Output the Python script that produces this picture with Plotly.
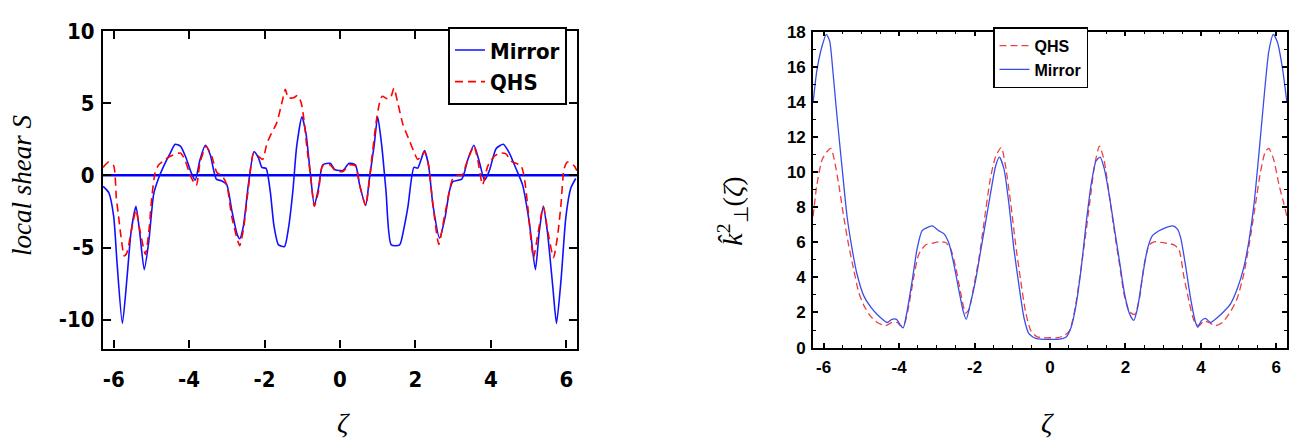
import plotly.graph_objects as go

# ---------------- Left panel: local shear S ----------------
mirror_s_x = [-6.28, -6.13, -6.0, -5.91, -5.77, -5.65, -5.54, -5.41, -5.31, -5.19, -5.07, -4.94, -4.81,
              -4.63, -4.5, -4.37, -4.23, -4.08, -3.95, -3.84, -3.71, -3.57, -3.44, -3.28, -3.13, -3.0,
              -2.87, -2.73, -2.66, -2.56, -2.43, -2.28, -2.16, -2.07, -1.96, -1.85, -1.75, -1.63, -1.47,
              -1.37, -1.25, -1.15, -1.01, -0.9, -0.79, -0.68, -0.57, -0.46, -0.26, -0.13, 0.0,
              0.08, 0.24, 0.41, 0.52, 0.68, 0.78, 0.9, 1.0, 1.11, 1.22, 1.36, 1.58, 1.69, 1.8, 1.96,
              2.06, 2.15, 2.24, 2.35, 2.46, 2.64, 2.79, 2.9, 2.99, 3.23, 3.39, 3.55, 3.7, 3.83, 3.96,
              4.14, 4.33, 4.49, 4.67, 4.84, 5.02, 5.18, 5.28, 5.39, 5.5, 5.64, 5.74, 5.86, 5.99, 6.12, 6.25]
mirror_s_y = [-0.77, -1.2, -2.85, -6.1, -10.26, -7.2, -3.95, -2.15, -3.95, -6.53, -4.6, -1.3, -0.2,
              0.88, 1.54, 2.15, 2.02, 1.2, 0.22, -0.33, 1.1, 2.08, 1.43, -0.26, -0.39, -0.66,
              -2.41, -4.06, -4.39, -3.5, -0.66, 1.64, 1.2, 0.55, 0.48, -1.1, -3.5, -4.82, -4.93,
              -3.73, -1.1, 1.97, 4.06, 2.85, 0.22, -2.08, -0.88, 0.72, 0.83, 0.39, 0.33,
              0.33, 0.83, 0.72, -0.66, -2.08, -0.22, 1.97, 4.06, 1.97, -1.1, -4.82, -4.82, -3.73, -2.19, 0.55,
              0.5, 1.1, 1.71, 0.66, -1.97, -4.34, -2.85, -1.1, -0.44, -0.26, 1.1, 2.08, 0.88, -0.33, 0.33,
              1.86, 2.15, 1.54, 0.44, -0.66, -3.29, -6.53, -3.95, -2.15, -3.95, -7.68, -10.26, -7.24, -2.85, -0.88, -0.22]

qhs_s_x = [-6.28, -6.13, -6.0, -5.93, -5.87, -5.81, -5.72, -5.65, -5.54, -5.41, -5.31, -5.16, -5.07, -4.99,
           -4.9, -4.81, -4.63, -4.5, -4.23, -4.1, -3.97, -3.81, -3.71, -3.55, -3.4, -3.26, -3.13, -3.0,
           -2.87, -2.66, -2.56, -2.43, -2.29, -2.16, -2.05, -1.94, -1.85, -1.68, -1.52, -1.45, -1.37, -1.23,
           -1.13, -1.03, -0.95, -0.88, -0.79, -0.68, -0.57, -0.46, -0.26, -0.13, 0.0,
           0.08, 0.24, 0.41, 0.52, 0.68, 0.83, 0.96, 1.05, 1.12, 1.25, 1.34, 1.43, 1.53, 1.67, 1.84, 1.96,
           2.06, 2.15, 2.24, 2.35, 2.46, 2.62, 2.77, 2.99, 3.12, 3.23, 3.39, 3.55, 3.65, 3.78, 3.92, 4.09,
           4.23, 4.4, 4.53, 4.8, 4.89, 4.97, 5.13, 5.24, 5.39, 5.5, 5.66, 5.77, 5.86, 5.94, 6.03, 6.21, 6.28]
qhs_s_y = [0.55, 0.92, 0.66, -1.54, -2.85, -4.17, -5.59, -5.37, -3.95, -2.41, -3.73, -5.48, -3.95, -1.54,
           0.22, 0.72, 1.1, 1.32, 1.54, 0.99, 0.0, -0.7, 0.88, 2.02, 1.32, 0.18, 0.0, -0.66,
           -2.85, -4.87, -3.73, -0.88, 1.54, 1.32, 1.1, 2.19, 2.74, 3.62, 5.26, 5.96, 5.37, 5.37,
           5.53, 5.04, 3.73, 1.97, 0.22, -2.15, -1.1, 0.66, 0.72, 0.33, 0.26,
           0.26, 0.72, 0.66, -0.66, -2.08, 0.88, 3.73, 5.04, 5.48, 5.31, 5.37, 6.03, 5.04, 3.51, 2.41, 1.64,
           1.1, 1.32, 1.64, 0.66, -1.97, -4.78, -2.85, -0.22, 0.0, 0.0, 1.1, 2.02, 1.1, -0.66, 0.66, 1.32,
           1.54, 1.49, 0.99, 0.66, -0.22, -1.97, -5.7, -4.17, -2.15, -3.73, -5.7, -4.17, -1.97, 0.44, 0.92, 0.66, 0.33]

zero_x = [-6.2832, 6.2832]
zero_y = [0, 0]

# ---------------- Right panel: k_perp^2 ----------------
mirror_k_x = [-6.28, -6.18, -6.04, -5.93, -5.84, -5.75, -5.65, -5.51, -5.38, -5.25, -5.12, -4.94, -4.76,
              -4.58, -4.32, -4.19, -4.07, -3.96, -3.89, -3.79, -3.65, -3.52, -3.39, -3.26, -3.12, -2.95,
              -2.81, -2.68, -2.55, -2.42, -2.3, -2.22, -2.12, -1.97, -1.84, -1.71, -1.58, -1.44, -1.34,
              -1.22, -1.09, -0.96, -0.82, -0.69, -0.56, -0.38, -0.16, 0.02,
              0.21, 0.43, 0.56, 0.69, 0.83, 0.96, 1.09, 1.22, 1.33, 1.44, 1.58, 1.71, 1.84, 1.97, 2.1,
              2.22, 2.32, 2.45, 2.59, 2.72, 2.89, 3.07, 3.25, 3.38, 3.47, 3.6, 3.73, 3.86, 3.92, 4.01,
              4.12, 4.26, 4.43, 4.61, 4.79, 4.96, 5.14, 5.27, 5.41, 5.54, 5.67, 5.8, 5.92, 6.03, 6.16, 6.28]
mirror_k_y = [13.97, 15.8, 17.2, 17.85, 17.45, 15.6, 13.25, 10.2, 7.47, 5.67, 4.22, 2.96, 2.33,
              1.88, 1.43, 1.61, 1.61, 1.25, 1.12, 2.06, 3.86, 5.67, 6.66, 6.84, 6.93, 6.66,
              6.48, 5.94, 4.77, 3.32, 2.06, 1.61, 2.42, 3.86, 5.49, 7.11, 8.74, 10.36, 10.85,
              10.18, 8.2, 5.67, 3.5, 1.7, 0.79, 0.52, 0.47, 0.47,
              0.47, 0.61, 1.16, 2.42, 4.58, 7.11, 9.28, 10.63, 10.85, 10.18, 8.56, 6.75, 4.95, 3.14, 1.97,
              1.55, 2.24, 4.04, 5.67, 6.39, 6.66, 6.84, 6.93, 6.75, 6.21, 4.58, 2.78, 1.43, 1.16, 1.52,
              1.66, 1.43, 1.7, 2.06, 2.51, 3.32, 4.58, 6.03, 8.2, 11.08, 14.15, 16.86, 17.85, 17.4, 15.96, 13.97]

qhs_k_x = [-6.28, -6.18, -6.04, -5.91, -5.81, -5.72, -5.6, -5.47, -5.34, -5.2, -5.07, -4.94, -4.76,
           -4.58, -4.36, -4.19, -4.05, -3.96, -3.86, -3.74, -3.61, -3.48, -3.3, -3.12, -2.95, -2.77,
           -2.64, -2.5, -2.37, -2.24, -2.15, -2.02, -1.88, -1.75, -1.58, -1.44, -1.29, -1.18, -1.04,
           -0.91, -0.78, -0.65, -0.51, -0.34, -0.16, 0.02,
           0.21, 0.39, 0.52, 0.65, 0.78, 0.92, 1.05, 1.18, 1.31, 1.43, 1.58, 1.71, 1.84, 1.97, 2.1,
           2.24, 2.37, 2.5, 2.63, 2.76, 2.94, 3.11, 3.29, 3.42, 3.55, 3.69, 3.82, 3.95, 4.08, 4.21,
           4.39, 4.57, 4.79, 4.96, 5.14, 5.32, 5.45, 5.58, 5.71, 5.8, 5.93, 6.07, 6.2, 6.28]
qhs_k_y = [7.47, 9.28, 10.72, 11.17, 11.35, 10.72, 9.28, 7.47, 5.85, 4.4, 3.14, 2.42, 1.79,
           1.43, 1.25, 1.43, 1.43, 1.25, 1.35, 2.42, 4.04, 5.31, 5.85, 5.94, 6.03, 5.99,
           5.67, 4.58, 3.14, 1.97, 2.15, 3.5, 5.13, 7.11, 9.64, 10.9, 11.41, 10.36, 8.2,
           5.85, 3.86, 2.06, 0.97, 0.61, 0.56, 0.56,
           0.56, 0.7, 0.97, 2.06, 3.86, 6.03, 8.2, 10.36, 11.48, 10.72, 8.56, 6.57, 4.77, 2.96, 2.06,
           1.88, 2.78, 4.77, 5.85, 6.03, 5.99, 5.94, 5.85, 5.58, 4.04, 2.6, 1.52, 1.25, 1.52, 1.43,
           1.25, 1.43, 2.06, 2.78, 4.22, 6.39, 8.2, 10.0, 11.17, 11.35, 10.72, 9.28, 8.2, 7.47]

left_xticks = [-6, -4, -2, 0, 2, 4, 6]
left_xlabels = ["-6", "-4", "-2", "0", "2", "4", "6"]
left_yticks = [-10, -5, 0, 5, 10]
left_ylabels = ["-10", "-5", "0", "5", "10"]
right_xticks = [-6, -4, -2, 0, 2, 4, 6]
right_xlabels = ["-6", "-4", "-2", "0", "2", "4", "6"]
right_yticks = [0, 2, 4, 6, 8, 10, 12, 14, 16, 18]
right_ylabels = ["0", "2", "4", "6", "8", "10", "12", "14", "16", "18"]

W, H = 1294, 446
PI2 = 6.2832

NARROW = "Liberation Sans Narrow, Arial Narrow, DejaVu Sans Condensed, sans-serif"
SANS = "Liberation Sans, Arial, Helvetica, sans-serif"
SERIF = "Liberation Serif, Times New Roman, serif"

fig = go.Figure()

fig.add_trace(go.Scatter(x=zero_x, y=zero_y, mode="lines", line=dict(color="#0000ff", width=2.5),
                         showlegend=False, xaxis="x", yaxis="y", hoverinfo="skip"))
fig.add_trace(go.Scatter(x=mirror_s_x, y=mirror_s_y, mode="lines", name="Mirror",
                         line=dict(color="#1010ff", width=1.6, shape="spline", smoothing=0.6),
                         xaxis="x", yaxis="y", legend="legend"))
fig.add_trace(go.Scatter(x=qhs_s_x, y=qhs_s_y, mode="lines", name="QHS",
                         line=dict(color="#ff0000", width=1.6, dash="8px,5px", shape="spline", smoothing=0.6),
                         xaxis="x", yaxis="y", legend="legend"))

fig.add_trace(go.Scatter(x=qhs_k_x, y=qhs_k_y, mode="lines", name="QHS",
                         line=dict(color="#ee4040", width=1.3, dash="7px,4px", shape="spline", smoothing=0.6),
                         xaxis="x2", yaxis="y2", legend="legend2"))
fig.add_trace(go.Scatter(x=mirror_k_x, y=mirror_k_y, mode="lines", name="Mirror",
                         line=dict(color="#3a4de8", width=1.3, shape="spline", smoothing=0.6),
                         xaxis="x2", yaxis="y2", legend="legend2"))

common = dict(showline=True, linecolor="black", mirror="ticks", ticks="inside", tickcolor="black",
              showgrid=False, zeroline=False, tickmode="array")

fig.update_layout(
    width=W, height=H, autosize=False,
    margin=dict(l=0, r=0, t=0, b=0),
    paper_bgcolor="white", plot_bgcolor="white",
    xaxis=dict(domain=[103 / W, 577 / W], anchor="y", range=[-PI2, PI2],
               tickvals=left_xticks, ticktext=left_xlabels,
               ticklen=8, tickwidth=2, linewidth=2.2,
               tickfont=dict(family=NARROW, size=22, color="black", weight="bold"),
               ticklabelstandoff=10, **common),
    yaxis=dict(domain=[1 - 354 / H, 1 - 20 / H], anchor="x", range=[-12, 10],
               tickvals=left_yticks, ticktext=left_ylabels,
               ticklen=8, tickwidth=2, linewidth=2.2,
               tickfont=dict(family=NARROW, size=22, color="black", weight="bold"),
               ticklabelstandoff=2, **common),
    xaxis2=dict(domain=[813 / W, 1287 / W], anchor="y2", range=[-PI2, PI2],
                tickvals=right_xticks, ticktext=right_xlabels,
                ticklen=5, tickwidth=1.5, linewidth=1.6,
                minor=dict(dtick=0.5, tick0=0, ticks="inside", ticklen=3, tickcolor="black", tickwidth=1),
                tickfont=dict(family=SANS, size=17, color="black", weight="bold"),
                ticklabelstandoff=3, **common),
    yaxis2=dict(domain=[1 - 353 / H, 1 - 20.7 / H], anchor="x2", range=[0, 18],
                tickvals=right_yticks, ticktext=right_ylabels,
                ticklen=5, tickwidth=1.5, linewidth=1.6,
                minor=dict(dtick=1, tick0=0, ticks="inside", ticklen=3, tickcolor="black", tickwidth=1),
                tickfont=dict(family=SANS, size=17, color="black", weight="bold"),
                ticklabelstandoff=2, **common),
    legend=dict(x=567 / W, xanchor="right", y=1 - 16 / H, yanchor="top",
                bgcolor="white", bordercolor="black", borderwidth=2,
                font=dict(family=NARROW, size=22, color="black", weight="bold"),
                tracegroupgap=0),
    legend2=dict(x=993 / W, xanchor="left", y=1 - 16 / H, yanchor="top",
                 bgcolor="white", bordercolor="black", borderwidth=1.5,
                 font=dict(family=SANS, size=16, color="black", weight="bold"),
                 tracegroupgap=0),
    annotations=[
        dict(text="<i>local shear S</i>", x=22 / W, y=1 - 183 / H, xref="paper", yref="paper",
             xanchor="center", yanchor="middle",
             showarrow=False, textangle=-90, font=dict(family=SERIF, size=27, color="black")),
        dict(text="<i>ζ</i>", x=343 / W, y=1 - 432 / H, xref="paper", yref="paper",
             xanchor="center", yanchor="middle",
             showarrow=False, font=dict(family=SERIF, size=28, color="black")),
        dict(text="<i>ζ</i>", x=1047 / W, y=1 - 432 / H, xref="paper", yref="paper",
             xanchor="center", yanchor="middle",
             showarrow=False, font=dict(family=SERIF, size=28, color="black")),
        dict(text="<i>k\u0302</i><sup>2</sup><sub>⊥</sub>(<i>ζ</i>)", x=733 / W, y=1 - 210 / H,
             xref="paper", yref="paper", xanchor="center", yanchor="middle",
             showarrow=False, textangle=-90,
             font=dict(family=SERIF, size=28, color="black")),
    ],
)

fig.write_html("out.html")
